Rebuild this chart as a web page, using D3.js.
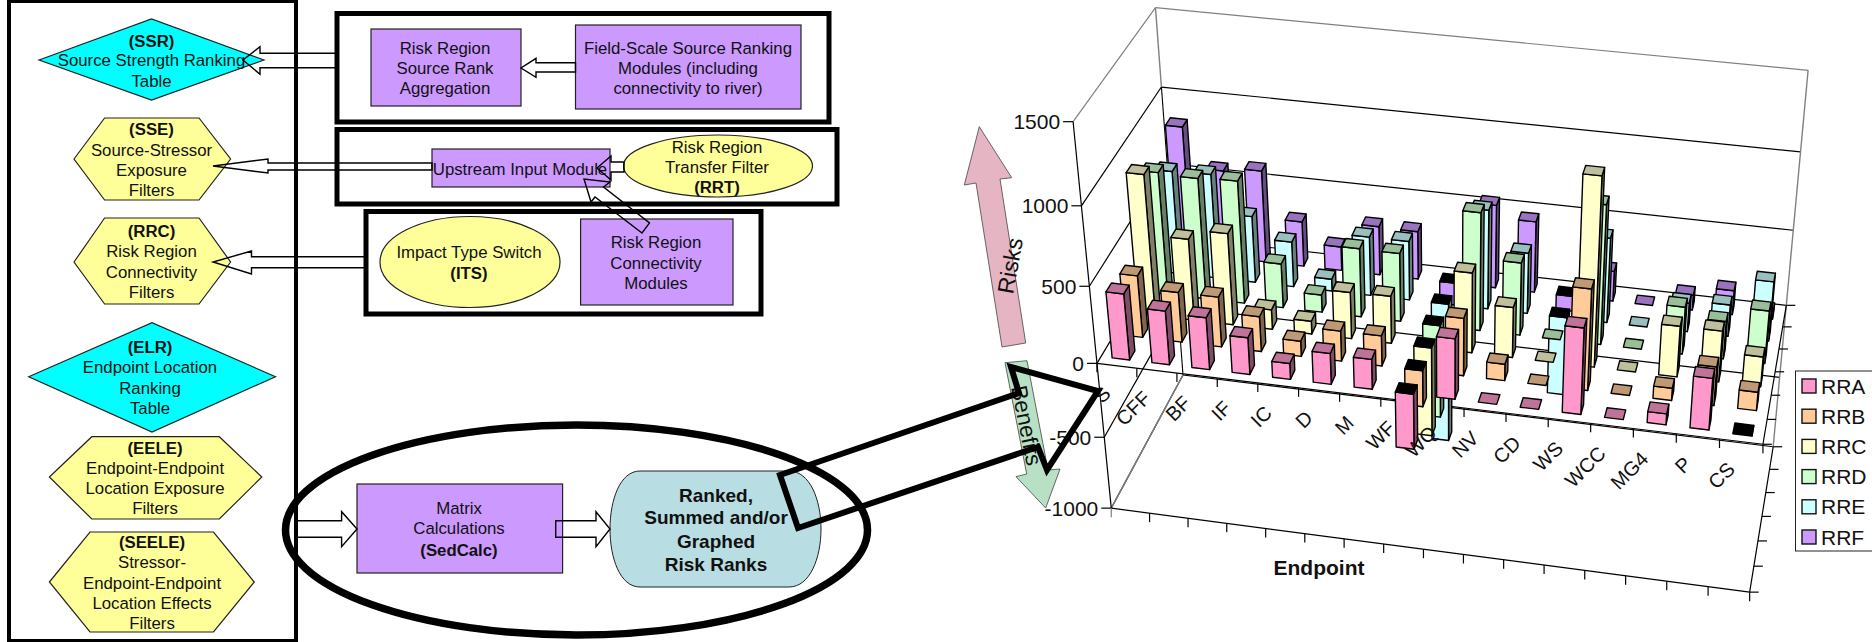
<!DOCTYPE html>
<html><head><meta charset="utf-8">
<style>html,body{margin:0;padding:0;background:#fff;overflow:hidden}svg{display:block}text{font-family:"Liberation Sans",Arial,sans-serif;fill:#111}</style>
<script src="https://cdnjs.cloudflare.com/ajax/libs/d3/7.9.0/d3.min.js"></script>
</head><body><svg id="fig" width="1872" height="642"></svg>
<script>
// Endpoint categories along the x axis and relative risk regions along the depth axis
const categories = ["S","CFF","BF","IF","IC","D","M","WF","WQ","NV","CD","WS","WCC","MG4","P","CS"];
const seriesNames = ["RRA","RRB","RRC","RRD","RRE","RRF"];
const valueTicks = [1500,1000,500,0,-500,-1000];

// Risk score per endpoint for each risk region (negative values are benefits)
const RRA = [430,350,338,240,104,201,195,-367,390,0,0,552,0,71,331,-5];
const RRB = [405,327,327,230,100,198,198,-240,373,107,0,650,0,80,250,120];
const RRC = [915,532,597,130,85,305,310,-600,520,328,0,1205,0,330,330,195];
const RRD = [800,790,800,292,115,450,448,-630,766,474,0,900,0,308,245,344];
const RRE = [680,688,440,300,80,390,390,-960,650,400,-530,555,0,190,208,390];
const RRF = [844,584,610,300,160,325,320,-150,550,470,-100,200,0,100,160,50];
const seriesValues = [RRA,RRB,RRC,RRD,RRE,RRF];
const seriesColors = ["#FF99CC","#FFCC99","#FFFFCC","#CCFFCC","#CCFFFF","#CC99FF"];

const svg = d3.select("#fig");
const INK = "#000", GREY = "#808080";

// Normalised model axes
const uS = d3.scaleLinear().domain([0,categories.length]).range([0,1]);
const wS = d3.scaleLinear().domain([0,seriesNames.length]).range([0,1]);
const vS = d3.scaleLinear().domain([-1000,1500]).range([0,1]);

// Camera calibration points: [category pos, depth pos, value, screen x, screen y]
const calib = [
 [0,0,1500,1073,122],[0,0,1000,1082,206],[0,0,500,1089,286],[0,0,0,1097,363],[0,0,-500,1104,437],[0,0,-1000,1111,508],
 [0,6,1500,1156,7],[0,6,1000,1161,87],[0,6,500,1167,163],[0,6,0,1173,238],[0,6,-1000,1183,375],
 [16,6,1500,1808,70],[16,6,1000,1800,152],[16,6,500,1793,230],[16,6,0,1787,305],[16,6,-1000,1773,447],
 [16,0,0,1763,446],[16,0,-1000,1750,591]
];

// Least-squares fit of a projective camera (11 parameters)
function fitCamera(pts){
  const n=11, A=d3.range(n).map(()=>new Array(n+1).fill(0));
  const add=(row,rhs)=>{for(let i=0;i<n;i++){for(let j=0;j<n;j++)A[i][j]+=row[i]*row[j];A[i][n]+=row[i]*rhs;}};
  pts.forEach(([u,w,v,X,Y])=>{
    const a=uS(u),b=wS(w),c=vS(v);
    add([a,b,c,1,0,0,0,0,-X*a,-X*b,-X*c],X);
    add([0,0,0,0,a,b,c,1,-Y*a,-Y*b,-Y*c],Y);
  });
  for(let i=0;i<n;i++){
    let p=i;for(let r=i+1;r<n;r++)if(Math.abs(A[r][i])>Math.abs(A[p][i]))p=r;
    [A[i],A[p]]=[A[p],A[i]];
    for(let r=0;r<n;r++){if(r===i)continue;const f=A[r][i]/A[i][i];for(let k=i;k<=n;k++)A[r][k]-=f*A[i][k];}
  }
  return A.map((row,i)=>row[n]/row[i]);
}
const cam = fitCamera(calib);
function P(u,w,v){
  const a=uS(u),b=wS(w),c=vS(v),d=cam[8]*a+cam[9]*b+cam[10]*c+1;
  return [(cam[0]*a+cam[1]*b+cam[2]*c+cam[3])/d,(cam[4]*a+cam[5]*b+cam[6]*c+cam[7])/d];
}
const poly = pts => "M"+pts.map(p=>p[0].toFixed(2)+","+p[1].toFixed(2)).join("L")+"Z";
const seg = (a,b,col,w=1.2)=>svg.append("line").attr("x1",a[0]).attr("y1",a[1]).attr("x2",b[0]).attr("y2",b[1]).attr("stroke",col).attr("stroke-width",w);

// Chart walls and gridlines
const U=categories.length, W=seriesNames.length;
valueTicks.forEach(v=>{
  const col = v===1500?GREY:INK;
  seg(P(0,0,v),P(0,W,v),col);
  seg(P(0,W,v),P(U,W,v),col);
});
seg(P(0,W,1500),P(0,W,1000),GREY,1.4);
seg(P(0,W,1000),P(0,W,-1000),INK,1.1);
seg(P(U,W,1500),P(U,W,-1000),GREY,1.4);
seg(P(0,0,-1000),P(0,W,-1000),GREY,1.4);

// Axes with tick marks
seg(P(0,0,1500),P(0,0,-1000),INK);
seg(P(0,0,0),P(U,0,0),INK);
seg(P(0,0,-1000),P(U,0,-1000),INK);
seg(P(U,0,0),P(U,W,0),INK);
seg(P(U,0,-1000),P(U,W,-1000),INK);
valueTicks.forEach(v=>{const p=P(0,0,v);seg(p,[p[0]-10,p[1]],INK);});
d3.range(U+1).forEach(i=>{
  [0,-1000].forEach(v=>{const p=P(i,0,v);seg(p,[p[0],p[1]+9],v===-1000&&i===0?GREY:INK);});
});
d3.range(W+1).forEach(s=>{
  [0,-1000].forEach(v=>{const p=P(U,s,v);seg(p,[p[0]+9,p[1]],INK);});
});

// Value axis labels
svg.append("g").selectAll("text").data(valueTicks).join("text")
  .attr("x",v=>P(0,0,v)[0]-13).attr("y",v=>P(0,0,v)[1]+7.5)
  .attr("text-anchor","end").attr("font-size",21).text(v=>v);

// Bars: back row first and left to right, so nearer bars overlap farther ones
const shade=(c,k)=>{const o=d3.rgb(c);return d3.rgb(o.r*k,o.g*k,o.b*k).formatHex();};
const cells=[];
d3.range(W-1,-1,-1).forEach(s=>categories.forEach((c,i)=>cells.push({s,i,v:seriesValues[s][i]})));
const U0=.28,U1=.72,W0=.3,W1=.7;
const barG=svg.append("g").attr("stroke",INK).attr("stroke-width",1.4).attr("stroke-linejoin","round");
cells.forEach(d=>{
  const {s,i,v}=d, col=seriesColors[s], g=barG.append("g");
  const a=i+U0,b=i+U1,f=s+W0,k=s+W1;
  if(v!==0){
    g.append("path").attr("d",poly([P(b,f,0),P(b,k,0),P(b,k,v),P(b,f,v)])).attr("fill",shade(col,.5));
    g.append("path").attr("d",poly([P(a,f,0),P(b,f,0),P(b,f,v),P(a,f,v)])).attr("fill",col);
  }
  const t=Math.max(v,0);
  g.append("path").attr("d",poly([P(a,f,t),P(b,f,t),P(b,k,t),P(a,k,t)])).attr("fill",v<0?"#000":shade(col,.75));
});

// Category labels, slanted and ending under each category
svg.append("g").selectAll("text").data(categories).join("text")
  .attr("transform",(c,i)=>{const p=P(i+.5,0,0);return `translate(${p[0]-10},${p[1]+24}) rotate(-45)`;})
  .attr("text-anchor","end").attr("font-size",20).attr("dy","0.35em").text(c=>c);

svg.append("text").attr("x",1319).attr("y",575).attr("text-anchor","middle").attr("font-size",21).attr("font-weight","bold").text("Endpoint");

// Legend
const lg=svg.append("g");
lg.append("rect").attr("x",1795.5).attr("y",371).attr("width",90).attr("height",180).attr("fill","#fff").attr("stroke","#222").attr("stroke-width",1);
const ly=d3.scalePoint().domain(seriesNames).range([386,537]);
seriesNames.forEach((n,i)=>{
  lg.append("rect").attr("x",1802).attr("y",ly(n)-7).attr("width",14).attr("height",14).attr("fill",seriesColors[i]).attr("stroke","#111").attr("stroke-width",1.4);
  lg.append("text").attr("x",1821).attr("y",ly(n)+7.5).attr("font-size",21).text(n);
});

// Risks / Benefits direction arrows
svg.append("path").attr("d","M979.3,126.7L1011.7,177.7L1000,179L1025.7,343L1002,347L976,183L964.3,185Z").attr("fill","#E6B5C4").attr("stroke","#444").attr("stroke-width",.8);
svg.append("path").attr("d","M1005,362.7L1027,360.7L1048,470L1060,469L1045.7,508L1016,476.7L1026.7,474Z").attr("fill","#B8E0C4").attr("stroke","#444").attr("stroke-width",.8);
svg.append("text").attr("transform","translate(1018,267) rotate(-80)").attr("text-anchor","middle").attr("font-size",23).text("Risks");
svg.append("text").attr("transform","translate(1019,427) rotate(78.5)").attr("text-anchor","middle").attr("font-size",22.5).text("Benefits");

// Model-flow diagram
const PURPLE="#CC99FF",YEL="#FFFF99",CYAN="#00FFFF",EDGE="#222";
const dg=svg.append("g");
const frame=(x0,y0,x1,y1,w=4.5)=>dg.append("rect").attr("x",x0).attr("y",y0).attr("width",x1-x0).attr("height",y1-y0).attr("fill","none").attr("stroke","#000").attr("stroke-width",w);
const box=(x0,y0,x1,y1)=>dg.append("rect").attr("x",x0).attr("y",y0).attr("width",x1-x0).attr("height",y1-y0).attr("fill",PURPLE).attr("stroke",EDGE).attr("stroke-width",1.2);
const shape=(pts,fill)=>dg.append("path").attr("d",poly(pts)).attr("fill",fill).attr("stroke",EDGE).attr("stroke-width",1.2);
const oval=(cx,cy,rx,ry,fill)=>dg.append("ellipse").attr("cx",cx).attr("cy",cy).attr("rx",rx).attr("ry",ry).attr("fill",fill).attr("stroke",EDGE).attr("stroke-width",1.2);
const arrow=pts=>dg.append("path").attr("d",poly(pts)).attr("fill","none").attr("stroke","#000").attr("stroke-width",1.4);
const label=(cx,lines,size=16.8)=>lines.forEach(([t,y,b])=>dg.append("text").attr("x",cx).attr("y",y).attr("text-anchor","middle").attr("font-size",size).attr("font-weight",b?"bold":"normal").text(t));

frame(9,1,296,641,4);
frame(337,13.5,829,122,5);
frame(337,129.5,837,204,5);
frame(366,211.5,761,314,5);

shape([[39,60],[151.5,19],[264,60],[151.5,100]],CYAN);
shape([[74,159],[104.6,118],[199,118],[230.6,159],[199,200],[104.6,200]],YEL);
shape([[74,262],[104.6,218],[199,218],[230.6,262],[199,304],[104.6,304]],YEL);
shape([[28.7,376.7],[152,322.7],[275.5,376.7],[152,432]],CYAN);
shape([[49.4,477],[91.8,436.7],[219.3,436.7],[261.8,477],[219.3,519],[91.8,519]],YEL);
shape([[49.4,582],[90,532],[213.5,532],[254.3,582],[213.5,632],[90,632]],YEL);

box(371,29,521,106); box(575.5,25,801,109);
box(432,149,610,187); box(580.6,219,733,305);
oval(718,166,94.5,31,YEL); oval(470,262,90,45.5,YEL);

label(151.5,[["(SSR)",46.5,1],["Source Strength Ranking",66],["Table",87]]);
label(151.5,[["(SSE)",135,1],["Source-Stressor",156],["Exposure",176],["Filters",196]]);
label(151.5,[["(RRC)",237,1],["Risk Region",257],["Connectivity",278],["Filters",298]]);
label(150,[["(ELR)",353,1],["Endpoint Location",373],["Ranking",394],["Table",414]]);
label(155,[["(EELE)",454,1],["Endpoint-Endpoint",474],["Location Exposure",494],["Filters",514]]);
label(152,[["(SEELE)",548,1],["Stressor-",568],["Endpoint-Endpoint",589],["Location Effects",609],["Filters",629]]);
label(445,[["Risk Region",54],["Source Rank",74],["Aggregation",94]]);
label(688,[["Field-Scale Source Ranking",54],["Modules (including",74],["connectivity to river)",94]]);
label(520,[["Upstream Input Module",175]]);
label(717,[["Risk Region",153],["Transfer Filter",173],["(RRT)",193,1]]);
label(469,[["Impact Type Switch",258],["(ITS)",279,1]]);
label(656,[["Risk Region",248],["Connectivity",269],["Modules",289]]);

// Block arrows between components
arrow([[337,53.3],[260,53.3],[260,46.7],[243,60],[260,74.3],[260,67.7],[337,67.7]]);
arrow([[575.5,62.7],[536,62.7],[536,58.3],[521,68],[536,77.3],[536,72],[575.5,72]]);
arrow([[432,163],[268,163],[268,159],[213,166],[268,173],[268,170],[432,170]]);
arrow([[624,162],[611,162],[611,156],[597,168],[611,180],[611,172],[624,172]]);
arrow([[366,256.7],[251.5,256.7],[251.5,251],[213,262],[251.5,274],[251.5,267.7],[366,267.7]]);
arrow([[584,179],[591,202],[595,197],[642,233],[649.5,223],[603.5,187],[610,182]]);

// SedCalc group
dg.append("ellipse").attr("cx",576.5).attr("cy",530).attr("rx",291).attr("ry",105).attr("fill","none").attr("stroke","#000").attr("stroke-width",7.5);
box(357,484,562.6,573);
dg.append("path").attr("d","M640,471L789,471C810,471 821,500 821,529C821,558 810,587 789,587L640,587C620,587 610,558 610,529C610,500 620,471 640,471Z").attr("fill","#B8DDE2").attr("stroke",EDGE).attr("stroke-width",1);
arrow([[296,520.7],[341.6,520.7],[341.6,511.7],[357,529],[341.6,546.7],[341.6,537.3],[296,537.3]]);
arrow([[555.7,520.7],[596,520.7],[596,511.7],[610,529],[596,546.7],[596,537.3],[555.7,537.3]]);
label(459,[["Matrix",514],["Calculations",534],["(SedCalc)",556,1]]);
label(716,[["Ranked,",502,1],["Summed and/or",524,1],["Graphed",548,1],["Risk Ranks",571,1]],19);

// Large outlined arrow from the results cylinder to the chart
svg.append("path").attr("d","M780,475L1019,393L1011,367L1098,391L1047,470L1038,447L798,528Z").attr("fill","none").attr("stroke","#000").attr("stroke-width",6).attr("stroke-linejoin","miter");
</script></body></html>
